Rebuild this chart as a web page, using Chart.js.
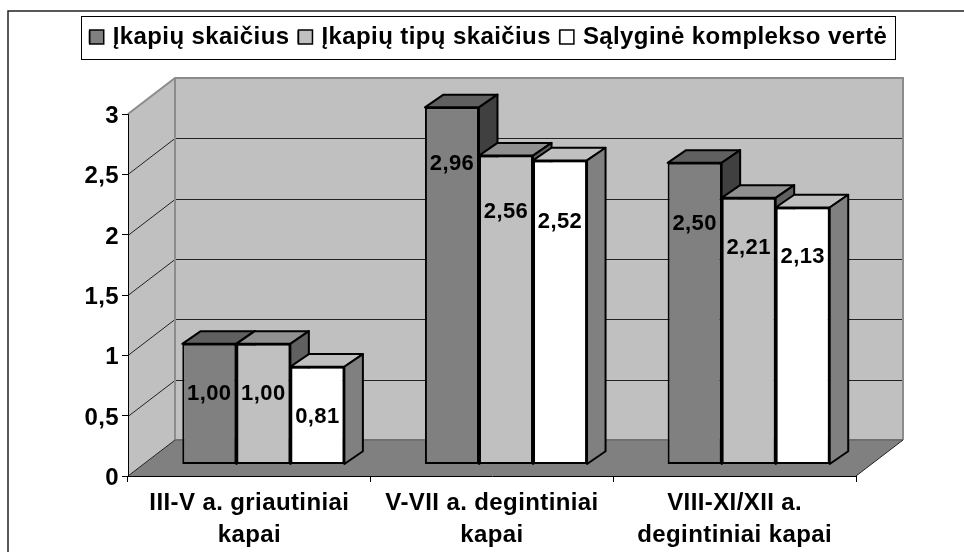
<!DOCTYPE html>
<html lang="lt">
<head>
    <meta charset="UTF-8">
    <title>Įkapių skaičius</title>
    <script src="https://cdn.jsdelivr.net/npm/chart.js"></script>
    <style>
        body { margin: 0; background: white; }
        canvas { display: block; }
    </style>
</head>
<body>
    <canvas id="chart" width="964" height="552"></canvas>
    <script>
    // Data
    const categories = [
        ['III-V a. griautiniai', 'kapai'],
        ['V-VII a. degintiniai', 'kapai'],
        ['VIII-XI/XII a.', 'degintiniai kapai']
    ];
    const seriesNames = ['Įkapių skaičius', 'Įkapių tipų skaičius', 'Sąlyginė komplekso vertė'];
    const grave = [1.00, 2.96, 2.50];
    const graveTypes = [1.00, 2.56, 2.21];
    const complexValue = [0.81, 2.52, 2.13];
    const yMax = 3;
    const yStep = 0.5;

    // Fake 3D look, in pixels
    const wallDepth = { x: 47, y: 36 };
    const barShift = { x: 14, y: 11.5 };
    const barDepth = { x: 18.5, y: 12.7 };
    const faces = [
        { front: '#808080', top: '#606060', side: '#404040' },
        { front: '#c0c0c0', top: '#909090', side: '#606060' },
        { front: '#ffffff', top: '#c0c0c0', side: '#808080' }
    ];
    // the original puts its labels at odd heights, distance below the bar top per series/category
    const labelDrop = [[50.5, 57, 61], [50.5, 56.5, 50.5], [50.5, 62, 49]];

    const FONT = "'Liberation Sans', Arial, sans-serif";

    function line(ctx, x1, y1, x2, y2) {
        ctx.beginPath();
        ctx.moveTo(x1, y1);
        ctx.lineTo(x2, y2);
        ctx.stroke();
    }

    function face(ctx, points, fill) {
        ctx.beginPath();
        points.forEach((p, i) => i ? ctx.lineTo(p[0], p[1]) : ctx.moveTo(p[0], p[1]));
        ctx.closePath();
        ctx.fillStyle = fill;
        ctx.fill();
        ctx.stroke();
    }

    const scene3d = {
        id: 'scene3d',
        beforeInit(chart) {
            // leave the gap between the legend and the plot
            const fit = chart.legend.fit;
            chart.legend.fit = function () {
                fit.call(this);
                this.height = 98;
            };
        },
        beforeUpdate(chart) {
            chart.ctx.letterSpacing = '0.4px';
        },
        beforeDraw(chart) {
            const ctx = chart.ctx;
            const { left, right, top, bottom } = chart.chartArea;
            const y = chart.scales.y;
            const d = wallDepth;
            ctx.save();

            // outer frame, cut off by the picture on the right and at the bottom
            ctx.strokeStyle = '#222';
            ctx.lineWidth = 1.5;
            ctx.beginPath();
            ctx.moveTo(8, chart.height);
            ctx.lineTo(8, 11);
            ctx.lineTo(chart.width, 11);
            ctx.stroke();

            // legend frame
            ctx.strokeStyle = '#000';
            ctx.lineWidth = 1;
            ctx.strokeRect(81.5, 16.5, 814, 43);

            // walls and floor
            ctx.fillStyle = '#c0c0c0';
            ctx.beginPath();
            ctx.moveTo(left, bottom);
            ctx.lineTo(left, top);
            ctx.lineTo(left + d.x, top - d.y);
            ctx.lineTo(right + d.x, top - d.y);
            ctx.lineTo(right + d.x, bottom - d.y);
            ctx.lineTo(left + d.x, bottom - d.y);
            ctx.closePath();
            ctx.fill();

            ctx.fillStyle = '#808080';
            ctx.beginPath();
            ctx.moveTo(left, bottom);
            ctx.lineTo(left + d.x, bottom - d.y);
            ctx.lineTo(right + d.x, bottom - d.y);
            ctx.lineTo(right, bottom);
            ctx.closePath();
            ctx.fill();

            // grid on both walls
            ctx.strokeStyle = '#222';
            ctx.lineWidth = 1;
            y.ticks.forEach(t => {
                if (t.value === 0 || t.value === yMax) return;
                const py = Math.round(y.getPixelForValue(t.value)) + 0.5;
                line(ctx, left, py, left + d.x, py - d.y);
                line(ctx, left + d.x, py - d.y, right + d.x, py - d.y);
            });

            // wall edges
            ctx.strokeStyle = '#8c8c8c';
            ctx.lineWidth = 2;
            ctx.beginPath();
            ctx.moveTo(left, top);
            ctx.lineTo(left + d.x, top - d.y);
            ctx.lineTo(right + d.x, top - d.y);
            ctx.lineTo(right + d.x, bottom - d.y);
            ctx.moveTo(left + d.x, top - d.y);
            ctx.lineTo(left + d.x, bottom - d.y);
            ctx.stroke();
            ctx.strokeStyle = '#707070';
            line(ctx, left + d.x, bottom - d.y, right + d.x, bottom - d.y);

            ctx.strokeStyle = '#222';
            ctx.lineWidth = 1;
            line(ctx, left, bottom, left + d.x, bottom - d.y);
            line(ctx, right, bottom, right + d.x, bottom - d.y);
            ctx.restore();
        },
        beforeDatasetDraw() {
            return false; // bars are drawn below, with their depth faces
        },
        beforeDatasetsDraw(chart) {
            const ctx = chart.ctx;
            ctx.save();
            ctx.translate(barShift.x, -barShift.y);
            ctx.strokeStyle = '#000';
            ctx.lineWidth = 2;
            ctx.lineJoin = 'round';
            chart.data.datasets.forEach((ds, s) => {
                chart.getDatasetMeta(s).data.forEach(bar => {
                    const l = bar.x - bar.width / 2;
                    const r = bar.x + bar.width / 2;
                    const dx = barDepth.x;
                    const dy = barDepth.y;
                    face(ctx, [[l, bar.y], [r, bar.y], [r + dx, bar.y - dy], [l + dx, bar.y - dy]], faces[s].top);
                    face(ctx, [[r, bar.y], [r + dx, bar.y - dy], [r + dx, bar.base - dy], [r, bar.base]], faces[s].side);
                    bar.draw(ctx);
                });
            });

            // value labels
            ctx.fillStyle = '#000';
            ctx.font = 'bold 22px ' + FONT;
            ctx.textAlign = 'center';
            ctx.textBaseline = 'middle';
            chart.data.datasets.forEach((ds, s) => {
                chart.getDatasetMeta(s).data.forEach((bar, c) => {
                    ctx.fillText(ds.data[c].toFixed(2).replace('.', ','), bar.x, bar.y + labelDrop[s][c]);
                });
            });
            ctx.restore();
        },
        afterDraw(chart) {
            // legend squares are 14px but the text sits closer than the library allows for that width
            const ctx = chart.ctx;
            ctx.save();
            ctx.strokeStyle = '#000';
            ctx.lineWidth = 1.5;
            chart.legend.legendHitBoxes.forEach((box, s) => {
                ctx.fillStyle = faces[s].front;
                ctx.fillRect(box.left, box.top + 5, 14, 14);
                ctx.strokeRect(box.left, box.top + 5, 14, 14);
            });
            ctx.restore();
        }
    };

    new Chart(document.getElementById('chart'), {
        type: 'bar',
        data: {
            labels: categories,
            datasets: [grave, graveTypes, complexValue].map((values, s) => ({
                label: seriesNames[s],
                data: values,
                backgroundColor: faces[s].front,
                borderColor: '#000',
                borderWidth: 2,
                borderSkipped: false
            }))
        },
        options: {
            responsive: false,
            animation: false,
            events: [],
            layout: { padding: { left: 13, top: 16, right: 0, bottom: 0 } },
            datasets: { bar: { categoryPercentage: 0.668, barPercentage: 1 } },
            plugins: {
                tooltip: { enabled: false },
                legend: {
                    position: 'top',
                    labels: {
                        boxWidth: 11,
                        boxHeight: 11,
                        padding: 9,
                        color: '#000',
                        font: { family: FONT, size: 24, weight: 'bold' }
                    }
                }
            },
            scales: {
                x: {
                    border: { color: '#000', width: 1 },
                    grid: { drawOnChartArea: false, tickLength: 6, color: '#000' },
                    ticks: {
                        color: '#000',
                        padding: 6,
                        maxRotation: 0,
                        font: { family: FONT, size: 24, weight: 'bold', lineHeight: 1.31 }
                    },
                    afterFit(scale) { scale.height = 76; }
                },
                y: {
                    min: 0,
                    max: yMax,
                    border: { color: '#000', width: 1 },
                    grid: { drawOnChartArea: false, tickLength: 6, color: '#000' },
                    ticks: {
                        stepSize: yStep,
                        color: '#000',
                        padding: 3,
                        labelOffset: 2.5,
                        font: { family: FONT, size: 24, weight: 'bold' },
                        callback: v => String(v).replace('.', ',')
                    },
                    afterFit(scale) { scale.width = 115; }
                },
                // empty axis, only keeps the white strip right of the plot
                spacer: {
                    position: 'right',
                    border: { display: false },
                    grid: { display: false },
                    ticks: { display: false },
                    afterFit(scale) { scale.width = 108; }
                }
            }
        },
        plugins: [scene3d]
    });
    </script>
</body>
</html>
